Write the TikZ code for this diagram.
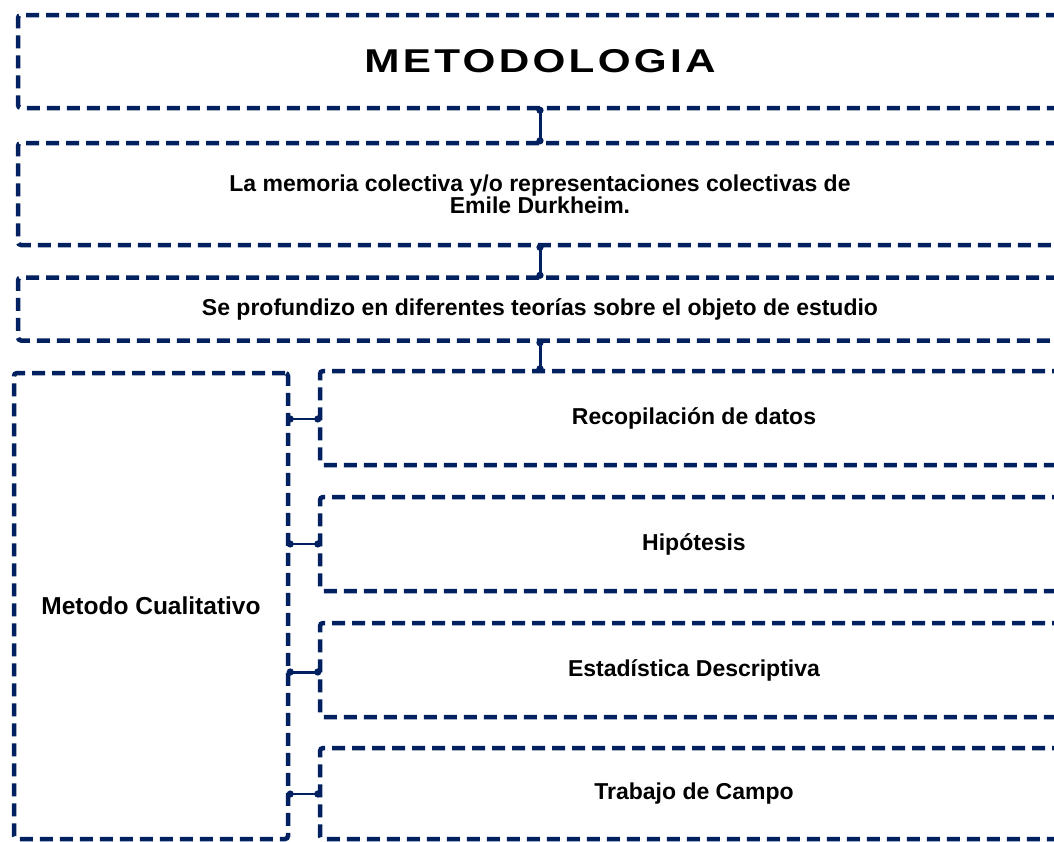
\documentclass[tikz,border=0pt]{standalone}
\usepackage{fontspec}
\setmainfont{Liberation Sans}
\newfontfamily\titlefont[FakeStretch=1.28,LetterSpace=10]{Liberation Sans}
\usetikzlibrary{arrows.meta}
\definecolor{navy}{RGB}{0,32,96}
\tikzset{
  box/.style={draw=navy, line width=4.5pt, dash pattern=on 13pt off 7pt, rounded corners=3pt,
    inner sep=0pt, text=black, align=center, font=\bfseries\fontsize{23}{22}\selectfont},
  conn/.style={draw=navy, line width=3pt, {Circle[length=7pt,width=7pt]}-{Circle[length=7pt,width=7pt]}, shorten <=-3.5pt, shorten >=-3.5pt},
  hconn/.style={conn, line width=2pt}
}
\begin{document}
\begin{tikzpicture}[x=1pt,y=-1pt]
\useasboundingbox (0,0) rectangle (1054,841);
\clip (0,0) rectangle (1054,841);
\node[box, minimum width=1044pt, minimum height=93pt] (t) at (540,61.5)
  {\titlefont\bfseries\fontsize{33}{36}\selectfont METODOLOGIA};
\node[box, minimum width=1044pt, minimum height=102pt] (m) at (540,194)
  {La memoria colectiva y/o representaciones colectivas de\\Emile Durkheim.};
\node[box, minimum width=1044pt, minimum height=63pt] (s) at (540,309)
  {Se profundizo en diferentes teorías sobre el objeto de estudio};
\node[box, minimum width=274pt, minimum height=466pt] (mc) at (151,606)
  {\fontsize{24.5}{22}\selectfont Metodo Cualitativo};
\node[box, minimum width=748pt, minimum height=94pt] (r1) at (694,418)
  {Recopilación de datos};
\node[box, minimum width=748pt, minimum height=94pt] (r2) at (694,544)
  {Hipótesis};
\node[box, minimum width=748pt, minimum height=94pt] (r3) at (694,670)
  {Estadística Descriptiva};
\node[box, minimum width=748pt, minimum height=91pt] (r4) at (694,793.5)
  {Trabajo de Campo};
\draw[conn] (t.south) -- (m.north);
\draw[conn] (m.south) -- (s.north);
\draw[conn] (s.south) -- (s.south |- r1.north);
\draw[hconn] (mc.east |- 0,419) -- (r1.west |- 0,419);
\draw[hconn] (mc.east |- r2.west) -- (r2.west);
\draw[conn] (mc.east |- 0,672) -- (r3.west |- 0,672);
\draw[hconn] (mc.east |- 0,794) -- (r4.west |- 0,794);
\end{tikzpicture}
\end{document}
